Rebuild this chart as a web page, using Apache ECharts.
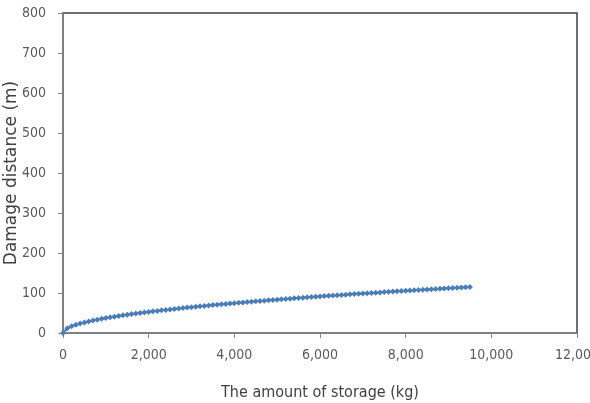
<!DOCTYPE html>
<html>
<head>
<meta charset="utf-8">
<script src="https://cdn.jsdelivr.net/npm/echarts@6/dist/echarts.min.js"></script>
<style>
  html, body { margin: 0; padding: 0; background: #fff; }
  #main { width: 590px; height: 403px; }
</style>
</head>
<body>
<div id="main"></div>
<script>
// storage amount (kg), one point every 100 kg
var storage = [];
for (var i = 0; i <= 95; i++) storage.push(i * 100);

// damage distance (m)
var distance = [
  0, 11.8, 16.7, 20.4, 23.6, 26.4, 28.9, 31.2, 33.4, 35.4,
  37.3, 39.1, 40.9, 42.5, 44.2, 45.7, 47.2, 48.7, 50.1, 51.4,
  52.8, 54.1, 55.3, 56.6, 57.8, 59.0, 60.2, 61.3, 62.4, 63.5,
  64.6, 65.7, 66.8, 67.8, 68.8, 69.8, 70.8, 71.8, 72.7, 73.7,
  74.6, 75.6, 76.5, 77.4, 78.3, 79.2, 80.0, 80.9, 81.8, 82.6,
  83.4, 84.3, 85.1, 85.9, 86.7, 87.5, 88.3, 89.1, 89.9, 90.6,
  91.4, 92.2, 92.9, 93.7, 94.4, 95.1, 95.9, 96.6, 97.3, 98.0,
  98.7, 99.4, 100.1, 100.8, 101.5, 102.2, 102.9, 103.5, 104.2, 104.9,
  105.5, 106.2, 106.9, 107.5, 108.1, 108.8, 109.4, 110.1, 110.7, 111.3,
  111.9, 112.6, 113.2, 113.8, 114.4, 115.0
];

var xTicks = [0, 2000, 4000, 6000, 8000, 10000, 12000];
var yTicks = [0, 100, 200, 300, 400, 500, 600, 700, 800];

var font = '"DejaVu Sans Condensed", "Liberation Sans Narrow", sans-serif';

var myChart = echarts.init(document.getElementById('main'));
myChart.setOption({
  animation: false,
  grid: {
    left: 63,
    right: 13,
    top: 13,
    bottom: 70,
    outerBoundsMode: 'none',
    containLabel: false,
    show: true,
    borderColor: '#404040',
    borderWidth: 1.5
  },
  xAxis: {
    type: 'value',
    min: xTicks[0],
    max: xTicks[xTicks.length - 1],
    interval: 2000,
    name: 'The amount of storage (kg)',
    nameLocation: 'middle',
    nameGap: 52,
    nameMoveOverlap: false,
    nameTextStyle: { fontFamily: font, fontSize: 16, color: '#404040' },
    axisLine: { show: true, lineStyle: { color: '#868686', width: 1.5 } },
    axisTick: { show: true, length: 5, lineStyle: { color: '#868686' } },
    splitLine: { show: false },
    axisLabel: {
      margin: 15,
      fontFamily: font,
      fontSize: 14,
      color: '#595959',
      formatter: function (v) { return v.toLocaleString('en-US'); }
    }
  },
  yAxis: {
    type: 'value',
    min: yTicks[0],
    max: yTicks[yTicks.length - 1],
    interval: 100,
    name: 'Damage distance (m)',
    nameLocation: 'middle',
    nameGap: 43,
    nameMoveOverlap: false,
    nameTextStyle: { fontFamily: '"DejaVu Sans", sans-serif', fontSize: 17, color: '#404040' },
    axisLine: { show: true, lineStyle: { color: '#868686', width: 1.5 } },
    axisTick: { show: true, length: 5, lineStyle: { color: '#868686' } },
    splitLine: { show: false },
    axisLabel: {
      margin: 17,
      fontFamily: font,
      fontSize: 14,
      color: '#595959'
    }
  },
  series: [
    {
      type: 'line',
      data: storage.map(function (x, i) { return [x, distance[i]]; }),
      symbol: 'diamond',
      symbolSize: 6,
      showSymbol: true,
      lineStyle: { color: '#4a7ebb', width: 2 },
      itemStyle: { color: '#4a7ebb' }
    }
  ]
});
</script>
</body>
</html>
